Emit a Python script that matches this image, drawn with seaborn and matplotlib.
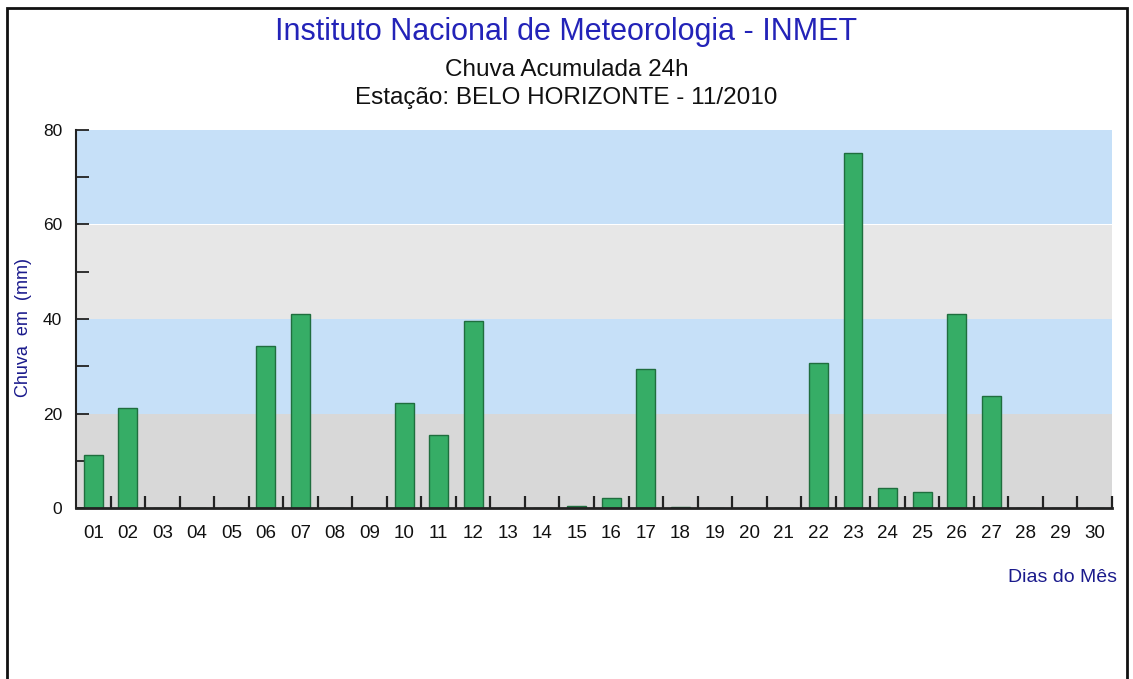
import numpy as np
import pandas as pd
import matplotlib
matplotlib.use("Agg")
import matplotlib.pyplot as plt
from matplotlib.patches import Rectangle
from matplotlib.ticker import MultipleLocator
import seaborn as sns

# dados (chuva acumulada 24h, mm)
dias = ["%02d" % d for d in range(1, 31)]
chuva = [11.2, 21.1, 0, 0, 0, 34.3, 41.1, 0, 0, 22.3,
         15.4, 39.6, 0, 0, 0.4, 2.1, 29.5, 0.3, 0, 0,
         0, 30.7, 75.2, 4.3, 3.4, 41.0, 23.6, 0, 0, 0]
faixas = [(0, 20, "#d8d8d8"), (20, 40, "#c6e0f8"), (40, 60, "#e7e7e7"), (60, 80, "#c6e0f8")]

sns.set_style("white")
plt.rcParams['font.family'] = ['Liberation Sans', 'DejaVu Sans']

df = pd.DataFrame({"dia": dias, "chuva": chuva})

fig = plt.figure(figsize=(11.33, 6.79), dpi=100)
ax = fig.add_axes([76 / 1133, 1 - 508 / 679, (1112 - 76) / 1133, (508 - 130) / 679])

for lo, hi, c in faixas:
    ax.axhspan(lo, hi, color=c, zorder=0, lw=0)

sns.barplot(data=df, x="dia", y="chuva", color="#36ad66", saturation=1,
            width=0.55, edgecolor="#1f6e3e", linewidth=1, ax=ax, zorder=2)

ax.set_ylim(0, 80)
ax.set_xlim(-0.5, len(dias) - 0.5)
ax.yaxis.set_major_locator(MultipleLocator(20))
ax.yaxis.set_minor_locator(MultipleLocator(10))
ax.set_xticks(np.arange(len(dias)))
ax.set_xticklabels(dias)
ax.set_xticks(np.arange(len(dias)) + 0.5, minor=True)
ax.tick_params(axis="x", which="major", bottom=False, length=0, pad=12, labelsize=13.5,
               labelcolor="#111111")
ax.tick_params(axis="x", which="minor", bottom=True, length=9, width=1.6, direction="in",
               color="#222222")
ax.tick_params(axis="y", which="both", left=True, direction="in", length=9, width=1.3,
               color="#222222", labelsize=12.5, pad=10, labelcolor="#111111")

for s in ["top", "right"]:
    ax.spines[s].set_visible(False)
ax.spines["left"].set_color("#222222")
ax.spines["left"].set_linewidth(1.5)
ax.spines["bottom"].set_color("#222222")
ax.spines["bottom"].set_linewidth(2)

ax.set_xlabel("")
ax.set_ylabel("")
fig.text(23 / 1133, 1 - 327 / 679, "Chuva  em  (mm)", rotation=90, ha="center",
         va="center", color="#1a1a8c", fontsize=13)

fig.text(0.5, 1 - 32 / 679, "Instituto Nacional de Meteorologia - INMET",
         ha="center", va="center", color="#2323b8", fontsize=22)
fig.text(0.5, 1 - 70 / 679, "Chuva Acumulada 24h", ha="center", va="center",
         color="#111111", fontsize=17.5)
fig.text(0.5, 1 - 98 / 679, "Estação: BELO HORIZONTE - 11/2010", ha="center",
         va="center", color="#111111", fontsize=17.5)
fig.text(1117 / 1133, 1 - 577 / 679, "Dias do Mês", ha="right", va="center",
         color="#1a1a8c", fontsize=14)

# moldura
fig.patches.append(Rectangle((7 / 1133, -0.05), (1127 - 7) / 1133, 1.05 - 8 / 679,
                             transform=fig.transFigure, fill=False,
                             edgecolor="#111111", linewidth=2))

fig.savefig("out.png", dpi=100)
